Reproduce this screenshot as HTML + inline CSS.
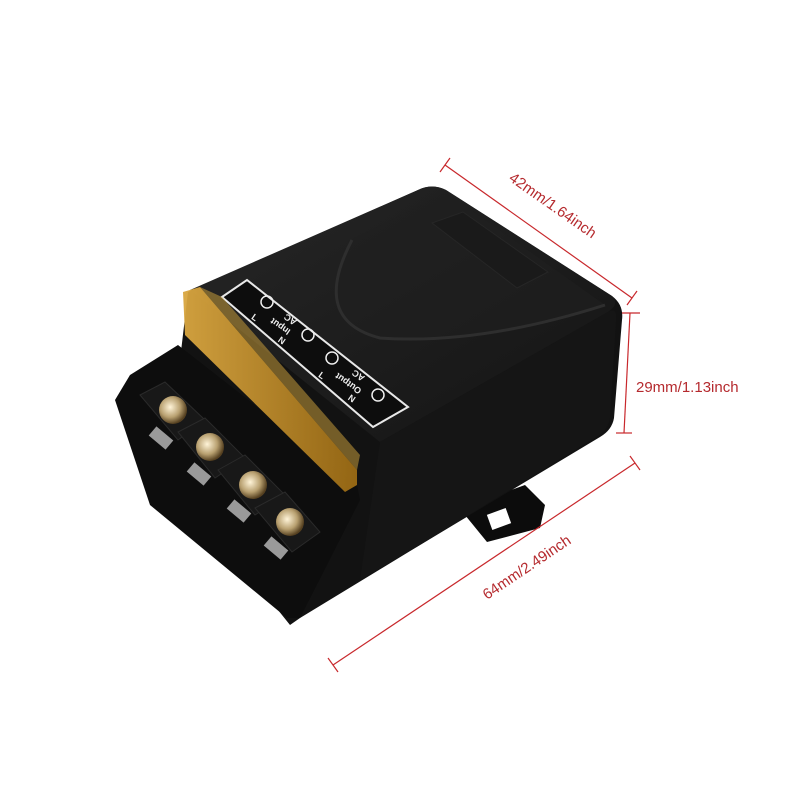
<!DOCTYPE html>
<html><head><style>body{margin:0;background:#fff}svg{display:block}</style></head><body>
<svg width="800" height="800" viewBox="0 0 800 800" xmlns="http://www.w3.org/2000/svg">
<defs>
<linearGradient id="top" x1="0" y1="0" x2="1" y2="1"><stop offset="0" stop-color="#262626"/><stop offset="1" stop-color="#141414"/></linearGradient>
<linearGradient id="yel" x1="0" y1="0" x2="1" y2="0"><stop offset="0" stop-color="#d9a640"/><stop offset="1" stop-color="#9a6a14"/></linearGradient>
<radialGradient id="scr" cx="0.4" cy="0.4" r="0.6"><stop offset="0" stop-color="#fff4d8"/><stop offset="0.6" stop-color="#b8a070"/><stop offset="1" stop-color="#554020"/></radialGradient>
</defs>
<path d="M465,515 L470,505 L525,485 L545,505 L540,528 L487,542 Z" fill="#0c0c0c"/>
<rect x="489" y="511" width="20" height="16" fill="#fff" transform="rotate(-20 499 519)"/>
<path d="M188,292 L418,190 Q432,183 446,190 L612,296 Q624,305 622,320 L614,418 Q612,430 600,437 L420,545 L300,618 L290,625 L190,500 L180,360 Z" fill="#121212"/>
<path d="M190,290 L418,190 Q432,183 446,190 L612,296 Q620,304 608,312 L380,442 Z" fill="url(#top)"/>
<path d="M352,240 Q310,320 380,338 Q480,345 605,305 L446,192 Z" fill="#1f1f1f" opacity="0.6"/>
<path d="M352,240 Q310,320 380,338 Q480,345 605,305" fill="none" stroke="#2e2e2e" stroke-width="3"/>
<polygon points="432,223 463,212 548,272 517,288" fill="#1a1a1a" stroke="#262626"/>
<path d="M380,442 L608,312 Q618,306 616,322 L610,418 Q608,430 598,436 L420,545 L360,580 Z" fill="#151515"/>
<polygon points="222,297 247,280 408,407 373,427" fill="#0d0d0d" stroke="#e8e8e8" stroke-width="2"/>
<g fill="#eee" font-family="Liberation Sans,sans-serif" font-size="9" font-weight="bold" text-anchor="middle">
<text transform="translate(292,317) rotate(-145)">AC</text>
<text transform="translate(282,324) rotate(-145)">Input</text>
<text transform="translate(253,320) rotate(35)">L</text>
<text transform="translate(280,343) rotate(35)">N</text>
<text transform="translate(360,373) rotate(-145)">AC</text>
<text transform="translate(350,381) rotate(-145)">Output</text>
<text transform="translate(320,378) rotate(35)">L</text>
<text transform="translate(350,401) rotate(35)">N</text>
</g>
<g fill="none" stroke="#eee" stroke-width="1.5"><circle cx="267" cy="302" r="6"/><circle cx="308" cy="335" r="6"/><circle cx="332" cy="358" r="6"/><circle cx="378" cy="395" r="6"/></g>
<path d="M130,375 L178,345 L357,485 L360,500 L300,618 L287,618 L150,505 L115,400 Z" fill="#0d0d0d"/>
<g fill="#181818" stroke="#2a2a2a">
<polygon points="140,395 165,382 205,420 178,440"/>
<polygon points="178,432 205,418 245,458 215,478"/>
<polygon points="218,470 245,455 285,495 255,515"/>
<polygon points="255,508 285,492 320,532 292,552"/>
</g>
<g fill="url(#scr)">
<circle cx="173" cy="410" r="14"/><circle cx="210" cy="447" r="14"/><circle cx="253" cy="485" r="14"/><circle cx="290" cy="522" r="14"/>
</g>
<g fill="#9a9a9a"><rect x="150" y="432" width="22" height="12" transform="rotate(40 161 438)"/><rect x="188" y="468" width="22" height="12" transform="rotate(40 199 474)"/><rect x="228" y="505" width="22" height="12" transform="rotate(40 239 511)"/><rect x="265" y="542" width="22" height="12" transform="rotate(40 276 548)"/></g>
<path d="M183,292 L200,287 L357,470 L357,485 L345,492 L185,335 Z" fill="url(#yel)" opacity="0.95"/>
<path d="M200,287 L222,297 L360,455 L357,470 Z" fill="#c59a3a" opacity="0.55"/>
<g stroke="#c8282c" stroke-width="1.2" fill="none">
<line x1="445" y1="165" x2="632" y2="298"/><line x1="440" y1="172" x2="450" y2="158"/><line x1="627" y1="305" x2="637" y2="291"/>
<line x1="630" y1="313" x2="624" y2="433"/><line x1="622" y1="313" x2="640" y2="313"/><line x1="616" y1="433" x2="632" y2="433"/>
<line x1="333" y1="665" x2="635" y2="463"/><line x1="328" y1="658" x2="338" y2="672"/><line x1="630" y1="456" x2="640" y2="470"/>
</g>
<g fill="#b52a2e" font-family="Liberation Sans,sans-serif" font-size="15">
<text transform="translate(508,180) rotate(35)">42mm/1.64inch</text>
<text x="636" y="392">29mm/1.13inch</text>
<text transform="translate(487,600) rotate(-34)">64mm/2.49inch</text>
</g>
</svg>
</body></html>
